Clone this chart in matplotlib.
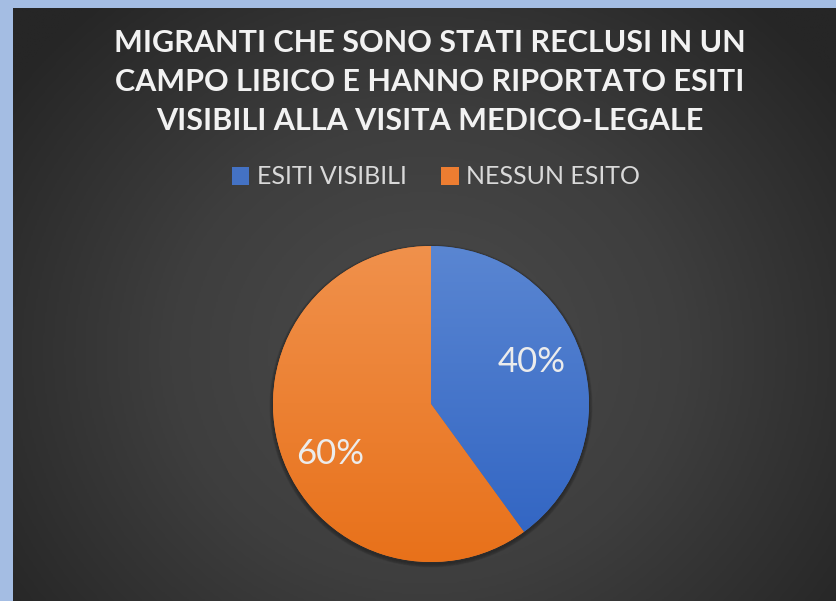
import numpy as np
import matplotlib
matplotlib.use("Agg")
import matplotlib.pyplot as plt
from matplotlib.colors import LinearSegmentedColormap

# Data
categories = ["ESITI VISIBILI", "NESSUN ESITO"]
shares = [40, 60]
title_lines = ["MIGRANTI CHE SONO STATI RECLUSI IN UN",
               "CAMPO LIBICO E HANNO RIPORTATO ESITI",
               "VISIBILI ALLA VISITA MEDICO-LEGALE"]

# Styles
W, H = 836, 601
slice_top = ["#5a86d2", "#f0914c"]
slice_bottom = ["#2f63c2", "#e8711a"]
slice_base = ["#4472c4", "#ed7d31"]
plt.rcParams["font.family"] = ["Lato", "DejaVu Sans"]

fig = plt.figure(figsize=(W / 100, H / 100), dpi=100, facecolor="#a4bde3")

# Dark panel with radial shading
bg = fig.add_axes([13 / W, 0, (W - 13) / W, (H - 8) / H])
bg.set_axis_off()
ny, nx = 300, 420
yy, xx = np.mgrid[0:ny, 0:nx]
cx, cy = nx * 0.5, ny * 0.58
d = np.sqrt(((xx - cx) / (nx * 0.62)) ** 2 + ((yy - cy) / (ny * 0.78)) ** 2)
d = np.clip(d, 0, 1)
bg_cmap = LinearSegmentedColormap.from_list("bg", ["#4b4b4b", "#3e3e3e", "#262626"])
bg.imshow(d, cmap=bg_cmap, vmin=0, vmax=1, aspect="auto", interpolation="bilinear")

# Pie
cxp, cyp, r = 431, 404, 158
pad = 1.05
pax = fig.add_axes([(cxp - r * pad) / W, (H - cyp - r * pad) / H,
                    2 * r * pad / W, 2 * r * pad / H])
pax.set_axis_off()

# soft shadow just below the pie
for k in range(4):
    sh = plt.Circle((0.0, -0.012), 1.0 + 0.006 * k, color="black", alpha=0.07, zorder=0)
    pax.add_patch(sh)

wedges, texts, autotexts = pax.pie(
    shares, colors=slice_base, startangle=90, counterclock=False,
    autopct="%1.0f%%", pctdistance=0.7, radius=1.0,
    wedgeprops=dict(linewidth=0),
    textprops=dict(color="#ececec", fontsize=25, family=["Lato", "DejaVu Sans"]))

grad = np.linspace(1, 0, 256).reshape(-1, 1)
for w, top, bot in zip(wedges, slice_top, slice_bottom):
    cm = LinearSegmentedColormap.from_list("s", [bot, top])
    im = pax.imshow(grad, cmap=cm, extent=(-1, 1, -1, 1), origin="upper",
                    aspect="auto", zorder=1.5, vmin=0, vmax=1)
    im.set_clip_path(w)

# labels sit a little counter-clockwise of each slice's middle
rot = np.deg2rad(6.5)
for t in autotexts:
    x, y = t.get_position()
    t.set_position((x * np.cos(rot) - y * np.sin(rot),
                    x * np.sin(rot) + y * np.cos(rot) - 0.026))
    t.set_zorder(3)
pax.set_xlim(-pad, pad)
pax.set_ylim(-pad, pad)

# Title
for i, line in enumerate(title_lines):
    fig.text(430 / W, 1 - (43 + 39 * i) / H, line, ha="center", va="center",
             color="#f2f2f2", fontsize=22, fontweight="bold")

# Legend
fig.legend(wedges, categories, loc="center", bbox_to_anchor=(436 / W, 1 - 177 / H),
           ncol=2, frameon=False, handlelength=0.7, handleheight=0.7,
           handletextpad=0.3, columnspacing=1.4, labelcolor="#d9d9d9",
           prop=dict(size=18, family=["Lato", "DejaVu Sans"]))

fig.savefig("out.png", dpi=100, facecolor=fig.get_facecolor())
